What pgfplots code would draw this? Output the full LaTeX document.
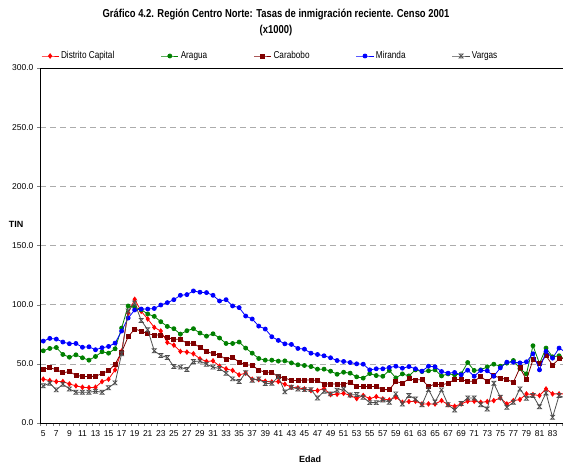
\documentclass[border=0pt]{standalone}
\usepackage{fontspec}
\setmainfont{Liberation Sans}
\newfontfamily\narrowfont[FakeStretch=0.82]{Liberation Sans}
\usepackage{pgfplots}
\pgfplotsset{compat=1.18}
\usepackage{pgfplotstable}
\definecolor{cDC}{RGB}{255,0,0}
\definecolor{cAR}{RGB}{0,128,0}
\definecolor{cCA}{RGB}{128,0,0}
\definecolor{cMI}{RGB}{0,0,255}
\definecolor{cVA}{RGB}{77,77,77}
\pgfdeclareplotmark{hourglass}{%
  \pgfpathmoveto{\pgfqpoint{-\pgfplotmarksize}{\pgfplotmarksize}}%
  \pgfpathlineto{\pgfqpoint{\pgfplotmarksize}{\pgfplotmarksize}}%
  \pgfpathlineto{\pgfqpoint{-\pgfplotmarksize}{-\pgfplotmarksize}}%
  \pgfpathlineto{\pgfqpoint{\pgfplotmarksize}{-\pgfplotmarksize}}%
  \pgfpathclose\pgfusepathqstroke}
\pgfplotstableread{
age dc ar ca mi va
5 37.0 61.0 45.5 69.2 31.4
6 35.9 63.0 46.6 71.5 33.6
7 35.0 63.8 45.2 70.9 28.0
8 35.0 57.9 42.4 68.4 32.8
9 33.0 55.6 43.5 67.0 28.8
10 31.4 57.6 40.4 67.2 26.0
11 30.2 55.1 39.3 64.0 26.0
12 29.9 53.1 39.3 64.4 26.0
13 30.2 56.2 39.5 61.9 26.8
14 35.0 60.2 41.8 63.6 26.0
15 37.0 59.0 44.1 64.7 29.7
16 44.9 62.7 49.7 67.5 33.9
17 60.7 80.2 59.9 77.7 58.5
18 92.7 98.9 72.9 88.7 94.6
19 104.5 98.0 79.4 95.5 101.4
20 94.4 95.8 77.7 96.3 86.7
21 87.9 92.1 75.4 96.3 78.8
22 80.8 90.1 74.3 96.8 61.0
23 77.7 85.6 74.3 99.7 57.0
24 68.1 81.6 72.0 101.7 55.4
25 65.8 79.7 70.9 104.2 47.7
26 60.5 75.1 70.6 107.9 47.2
27 59.9 78.0 67.5 108.5 45.2
28 58.5 79.7 67.2 111.6 52.0
29 54.2 76.0 64.0 110.5 52.3
30 52.0 73.4 60.5 110.2 49.7
31 52.5 75.4 58.5 107.9 47.2
32 48.0 71.8 57.3 103.1 46.0
33 45.8 67.2 53.7 104.2 42.1
34 44.4 67.2 55.4 98.9 37.3
35 40.7 68.4 51.4 97.5 35.0
36 42.1 63.3 49.2 90.4 42.4
37 37.0 59.0 48.9 87.9 36.2
38 36.7 54.5 44.6 81.9 37.3
39 35.3 53.1 42.9 79.4 33.3
40 34.7 53.1 42.9 72.9 33.6
41 35.0 52.3 39.0 69.8 39.0
42 32.8 52.5 38.1 66.9 26.3
43 30.2 50.8 35.9 66.4 30.2
44 29.7 49.2 35.9 63.0 28.8
45 28.8 48.6 36.4 62.4 28.2
46 27.4 47.7 36.4 59.0 28.2
47 27.4 45.5 35.9 57.9 21.2
48 29.1 45.5 33.0 56.8 26.8
49 24.0 43.8 33.0 55.1 24.6
50 24.3 41.2 33.0 52.8 27.7
51 25.1 42.9 32.5 52.0 28.8
52 23.4 42.1 34.5 51.1 23.7
53 20.6 39.0 30.8 50.0 24.0
54 23.2 37.9 30.8 49.7 21.8
55 20.6 41.8 30.8 44.9 17.2
56 22.3 40.1 30.8 45.8 17.2
57 20.3 39.5 28.2 45.8 19.5
58 19.5 44.4 28.2 46.9 17.5
59 21.8 38.1 35.0 48.0 24.6
60 17.5 41.5 33.6 46.3 16.1
61 18.1 39.8 37.3 47.7 23.2
62 18.4 44.9 36.4 45.8 20.3
63 16.1 43.5 36.7 43.8 15.5
64 16.1 44.1 30.8 48.0 28.2
65 16.1 44.9 33.0 47.5 17.8
66 18.9 39.8 32.2 43.5 28.0
67 15.5 41.5 33.6 42.1 15.5
68 14.1 40.7 36.7 42.7 11.0
69 16.1 41.5 36.7 40.7 16.4
70 18.4 51.1 35.3 44.6 21.2
71 18.4 44.4 35.3 39.5 21.2
72 17.5 44.9 39.3 44.4 15.5
73 18.1 47.5 35.0 44.1 11.9
74 18.9 49.7 39.8 39.5 33.6
75 21.2 48.0 38.1 46.6 21.8
76 16.1 50.6 36.7 51.4 13.3
77 18.9 52.8 34.5 51.4 17.5
78 19.8 46.0 46.6 50.8 28.8
79 24.6 41.5 36.7 51.7 20.9
80 24.0 65.3 53.4 58.5 23.2
81 23.2 50.3 50.0 44.9 13.8
82 28.8 63.3 56.8 60.5 25.4
83 24.6 55.9 48.9 54.8 4.8
84 24.6 56.8 54.2 63.3 23.2
85 24.6 53.4 55.0 59.9 21.0
}\data
\begin{document}
\begin{tikzpicture}
\begin{axis}[
  at={(40pt,42pt)}, anchor=south west,
  scale only axis, width=523pt, height=355pt,
  xmin=4.5, xmax=84.6, ymin=0, ymax=300,
  axis x line*=box, axis y line*=left,
  xtick pos=left, ytick pos=left,
  tick align=outside,
  xtick={4.5,5.5,...,84.5}, xticklabels={},
  extra x ticks={5,7,...,85},
  extra x tick style={major tick length=0pt, xticklabel style={yshift=-4pt}},
  major tick length=3pt,
  ytick={0,50,...,300},
  yticklabel style={/pgf/number format/.cd, fixed, fixed zerofill, precision=1},
  /pgf/number format/assume math mode=true,
  tick label style={font=\fontsize{8.5}{9}\selectfont},
  ymajorgrids,
  y grid style={gray!65, dash pattern=on 6pt off 4pt},
  clip marker paths=true,
  every axis plot/.append style={line width=0.8pt},
  legend columns=5,
  legend cell align=left,
  legend style={draw=none, fill=none, at={(axis description cs:0,1)}, anchor=west,
    xshift=1pt, yshift=12pt, font=\narrowfont\fontsize{10}{11}\selectfont, inner sep=0pt,
    /tikz/every even column/.append style={column sep=44.5pt}},
]
\addplot[color=cDC, mark=diamond*, mark size=2.2pt] table[x=age,y=dc]{\data};
\addlegendentry{Distrito Capital}
\addplot[color=cAR, mark=*, mark size=2pt] table[x=age,y=ar]{\data};
\addlegendentry{Aragua}
\addplot[color=cCA, mark=square*, mark size=2pt] table[x=age,y=ca]{\data};
\addlegendentry{Carabobo}
\addplot[color=cMI, mark=*, mark size=2pt] table[x=age,y=mi]{\data};
\addlegendentry{Miranda}
\addplot[color=cVA, mark=hourglass, mark size=2pt, mark options={line width=0.7pt}] table[x=age,y=va]{\data};
\addlegendentry{Vargas}
\end{axis}
\node[font=\narrowfont\bfseries\fontsize{11.5}{13}\selectfont] at (276pt,450pt) {Gráfico 4.2. Región Centro Norte: Tasas de inmigración reciente. Censo 2001};
\node[font=\narrowfont\bfseries\fontsize{11.5}{13}\selectfont] at (276pt,434pt) {(x1000)};
\node[font=\bfseries\fontsize{9}{10}\selectfont] at (16pt,241pt) {TIN};
\node[font=\bfseries\fontsize{9}{10}\selectfont] at (310pt,6pt) {Edad};
\pgfresetboundingbox
\path[use as bounding box] (0,0) rectangle (563pt,465pt);
\end{tikzpicture}
\end{document}
